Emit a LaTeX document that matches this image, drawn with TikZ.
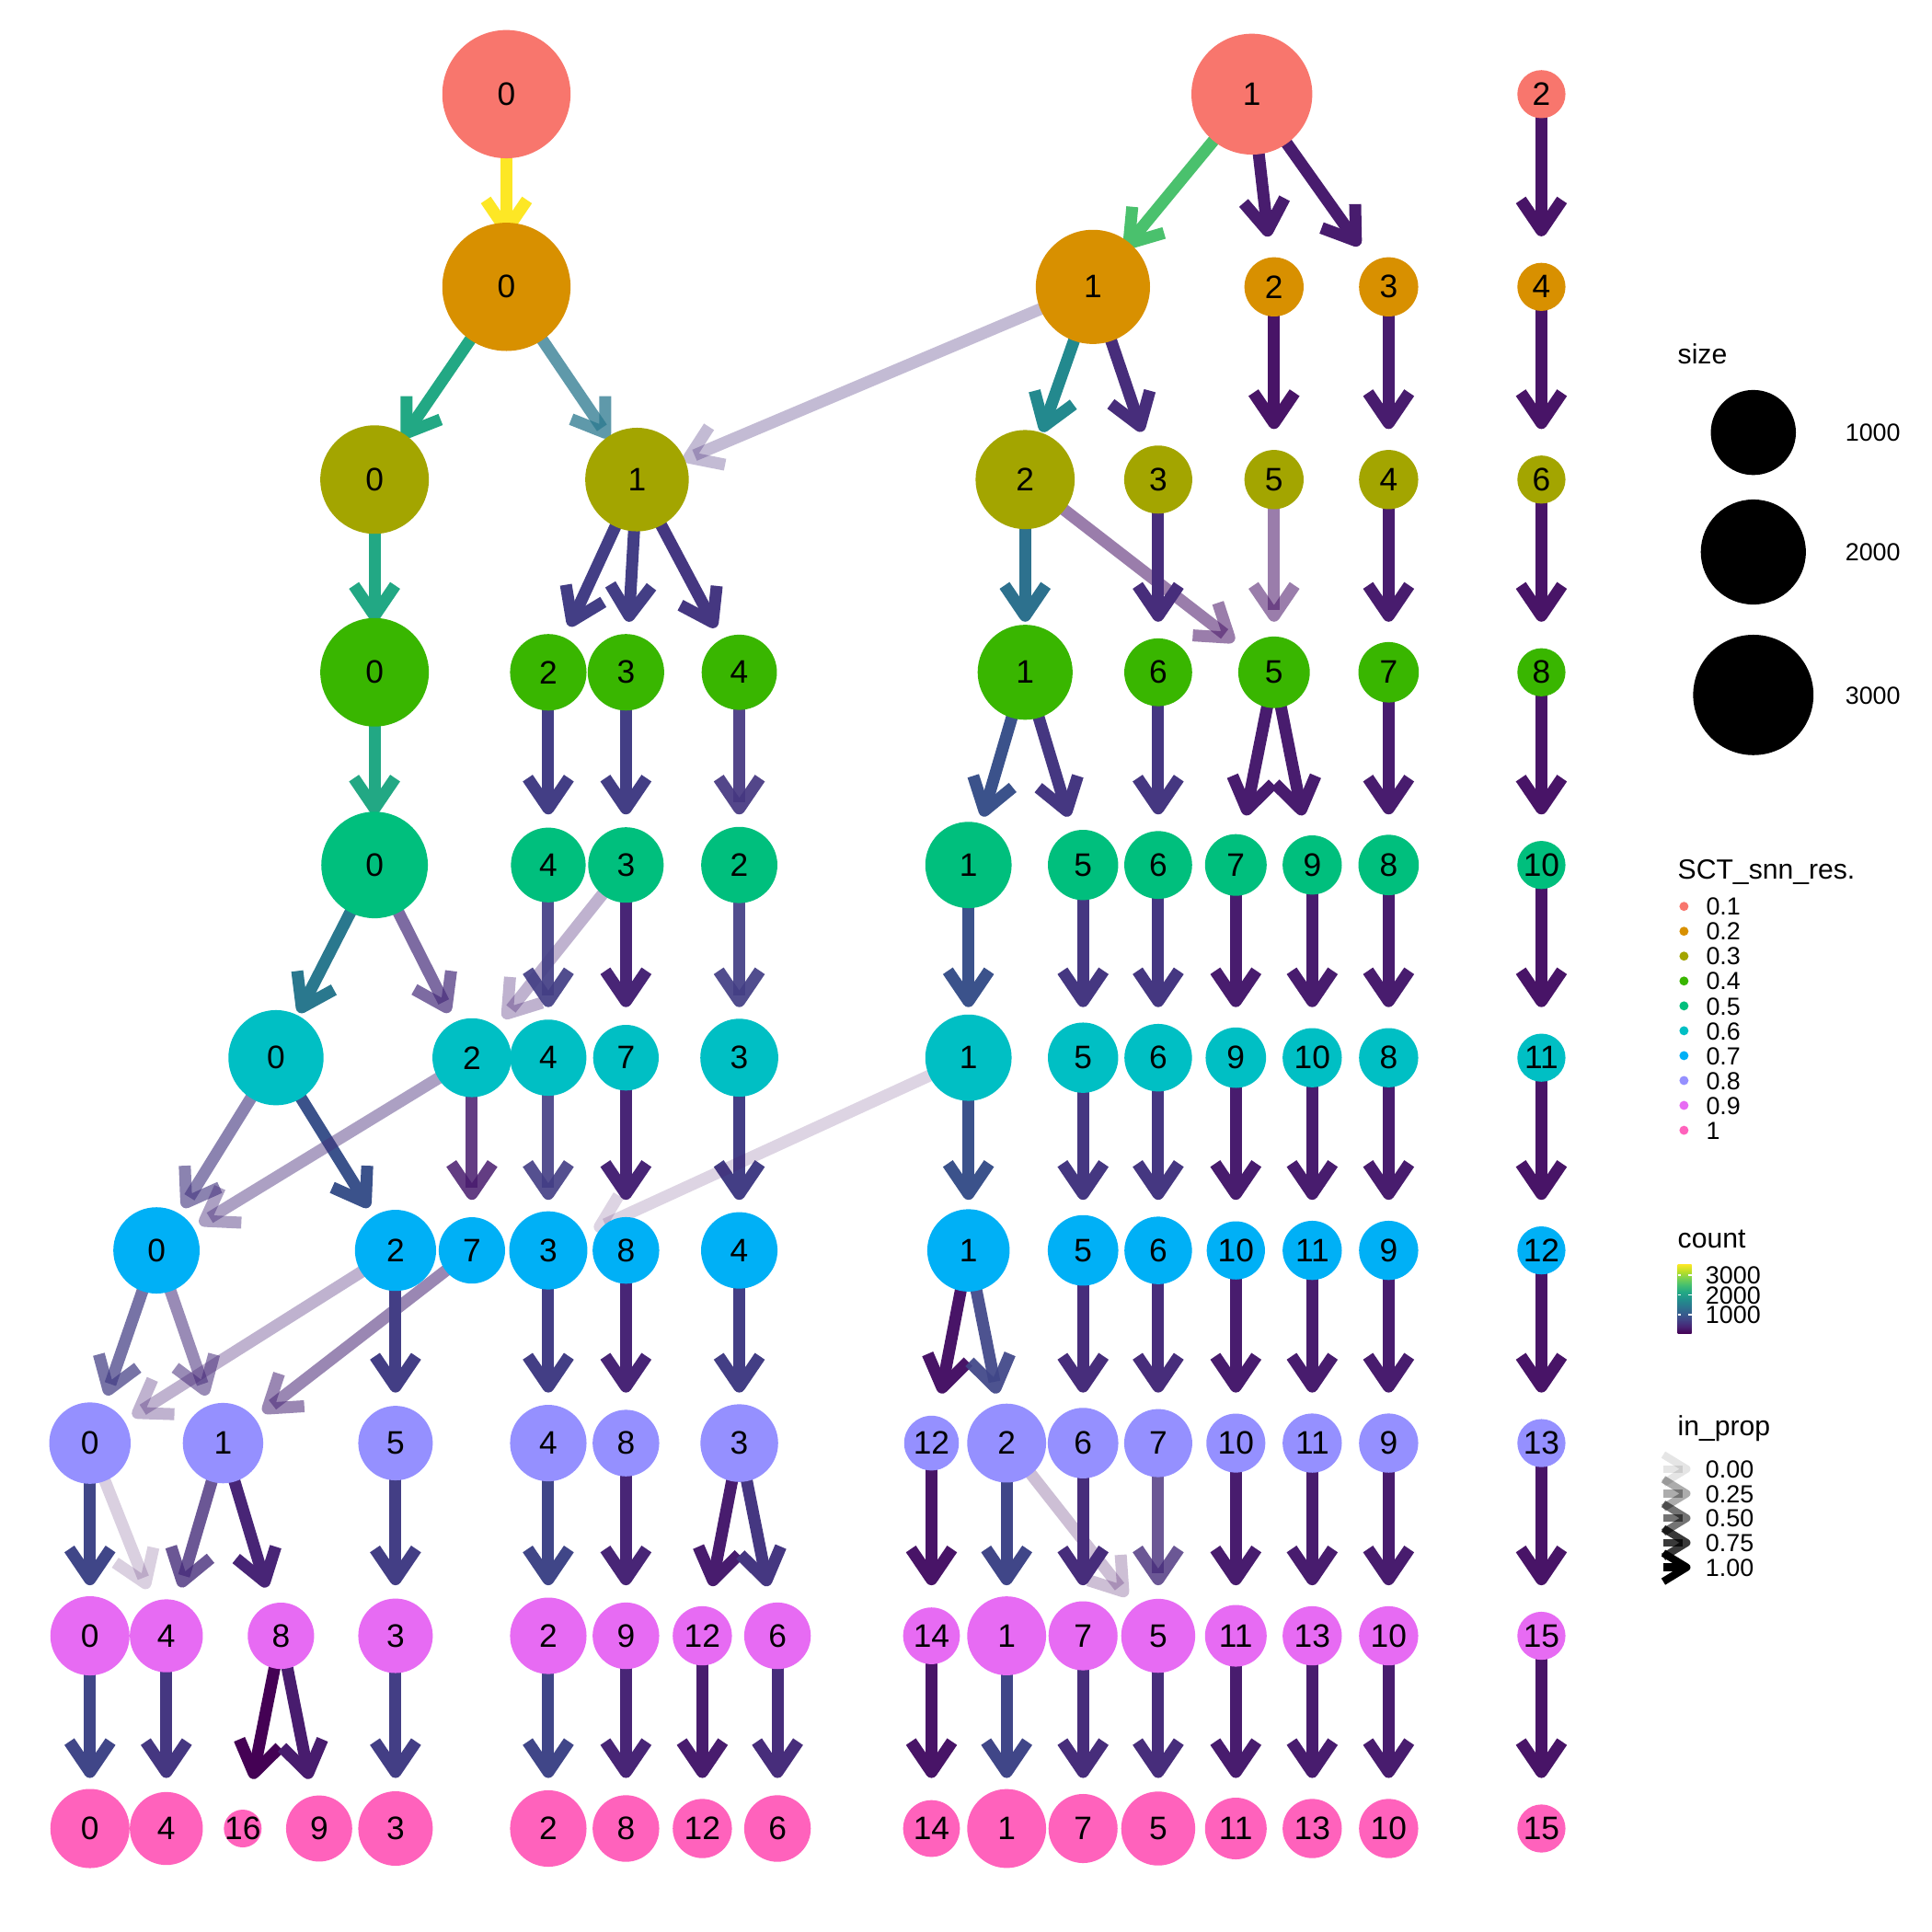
\documentclass[tikz,border=0pt]{standalone}
\usepackage{fontspec}
\setmainfont{Liberation Sans}
\usetikzlibrary{arrows.meta}

% resolution colours (hue palette)
\definecolor{p1}{HTML}{F8766D}
\definecolor{p2}{HTML}{D89000}
\definecolor{p3}{HTML}{A3A500}
\definecolor{p4}{HTML}{39B600}
\definecolor{p5}{HTML}{00BF7D}
\definecolor{p6}{HTML}{00BFC4}
\definecolor{p7}{HTML}{00B0F6}
\definecolor{p8}{HTML}{9590FF}
\definecolor{p9}{HTML}{E76BF3}
\definecolor{p10}{HTML}{FF62BC}

% viridis levels used for the edge counts
\definecolor{vA}{HTML}{440154}
\definecolor{vB}{HTML}{481467}
\definecolor{vC}{HTML}{481C6E}
\definecolor{vD}{HTML}{482576}
\definecolor{vE}{HTML}{472D7B}
\definecolor{vF}{HTML}{453781}
\definecolor{vG}{HTML}{433E85}
\definecolor{vH}{HTML}{404688}
\definecolor{vI}{HTML}{3B528B}
\definecolor{vK}{HTML}{2D718E}
\definecolor{vL}{HTML}{2A788E}
\definecolor{vM}{HTML}{23898E}
\definecolor{vN}{HTML}{22A884}
\definecolor{vO}{HTML}{4AC16D}
\definecolor{vP}{HTML}{FDE725}

% colour bar stops
\definecolor{w0}{HTML}{440154}
\definecolor{w1}{HTML}{482475}
\definecolor{w2}{HTML}{414487}
\definecolor{w3}{HTML}{355F8D}
\definecolor{w4}{HTML}{2A788E}
\definecolor{w5}{HTML}{21918C}
\definecolor{w6}{HTML}{22A884}
\definecolor{w7}{HTML}{44BF70}
\definecolor{w8}{HTML}{7AD151}
\definecolor{w9}{HTML}{BDDF26}
\definecolor{w10}{HTML}{FDE725}
\pgfdeclareverticalshading{viridisbar}{100bp}{color(0bp)=(w0); color(25bp)=(w0); color(30bp)=(w1); color(35bp)=(w2); color(40bp)=(w3); color(45bp)=(w4); color(50bp)=(w5); color(55bp)=(w6); color(60bp)=(w7); color(65bp)=(w8); color(70bp)=(w9); color(75bp)=(w10); color(100bp)=(w10)}

\pgfdeclarelayer{bglayer}
\pgfdeclarelayer{edgelayer}
\pgfsetlayers{bglayer,edgelayer,main}

\tikzset{
  nd/.style={circle, inner sep=0pt, draw=none, text=black, font=\fontsize{7.5}{8}\selectfont},
  edgeline/.style={line width=2.76pt, shorten >=0.41cm,
    -{Straight Barb[length=7pt, width=9.5pt, line join=round, line cap=butt]}},
  ttl/.style={anchor=base west, inner sep=0pt, font=\fontsize{6.4}{7}\selectfont},
  lab/.style={anchor=base west, inner sep=0pt, yshift=-2.05pt, font=\fontsize{5.7}{6.5}\selectfont},
  keyarrow/.style={line width=1.75pt, black,
    -{Straight Barb[length=5.4pt, width=6.6pt, line join=round, line cap=butt]}},
  dot/.style={circle, inner sep=0pt, minimum size=0.074cm},
}

% cluster node: resolution row, cluster id, x position, radius
\newcommand\cl[4]{\node[nd, fill=p#1, minimum size=#4*0.02cm] (r#1c#2) at (#3,{76.4+156.4*(#1-1)}) {\makebox[0pt]{#2}};}
% edge between clusters: source, target, colour, opacity
\newcommand\lnk[4]{\draw[edgeline, draw=#3, opacity=#4] (#1.center) -- (#2.center);}

\begin{document}
\begin{tikzpicture}[x=0.01cm, y=-0.01cm]
\begin{pgfonlayer}{bglayer}
\fill[white] (0,0) rectangle (1568,1568);
\end{pgfonlayer}
\useasboundingbox (0,0) rectangle (1568,1568);

% ---- clusters ----
\cl{1}{0}{411}{52} \cl{1}{1}{1016}{49} \cl{1}{2}{1251}{19.5}

\cl{2}{0}{411}{52} \cl{2}{1}{887}{46.3} \cl{2}{2}{1034}{24} \cl{2}{3}{1127}{24} \cl{2}{4}{1251}{19.5}

\cl{3}{0}{304}{44} \cl{3}{1}{517}{42} \cl{3}{2}{832}{40.2} \cl{3}{3}{940}{27.6}
\cl{3}{5}{1034}{24} \cl{3}{4}{1127}{24} \cl{3}{6}{1251}{19.5}

\cl{4}{0}{304}{44} \cl{4}{2}{445}{31} \cl{4}{3}{508}{31} \cl{4}{4}{600}{30.5}
\cl{4}{1}{832}{38.5} \cl{4}{6}{940}{27.5} \cl{4}{5}{1034}{29} \cl{4}{7}{1127}{24.5} \cl{4}{8}{1251}{19.5}

\cl{5}{0}{304}{43.2} \cl{5}{4}{445}{30.3} \cl{5}{3}{508}{30.6} \cl{5}{2}{600}{30.9}
\cl{5}{1}{786}{35} \cl{5}{5}{879}{28.5} \cl{5}{6}{940}{27.5} \cl{5}{7}{1003}{25}
\cl{5}{9}{1065}{24} \cl{5}{8}{1127}{24.5} \cl{5}{10}{1251}{19.5}

\cl{6}{0}{224}{38.6} \cl{6}{2}{383}{32} \cl{6}{4}{445}{30.9} \cl{6}{7}{508}{26.6}
\cl{6}{3}{600}{31.6} \cl{6}{1}{786}{35} \cl{6}{5}{879}{28.5} \cl{6}{6}{940}{27.4}
\cl{6}{9}{1003}{24.5} \cl{6}{10}{1065}{24} \cl{6}{8}{1127}{24} \cl{6}{11}{1251}{19.5}

\cl{7}{0}{127}{35} \cl{7}{2}{321}{32.9} \cl{7}{7}{383}{26.9} \cl{7}{3}{445}{31.7}
\cl{7}{8}{508}{27} \cl{7}{4}{600}{31} \cl{7}{1}{786}{33.4} \cl{7}{5}{879}{28.6}
\cl{7}{6}{940}{27.4} \cl{7}{10}{1003}{23.6} \cl{7}{11}{1065}{24} \cl{7}{9}{1127}{24} \cl{7}{12}{1251}{19.5}

\cl{8}{0}{73}{33} \cl{8}{1}{181}{32.6} \cl{8}{5}{321}{30.2} \cl{8}{4}{445}{31}
\cl{8}{8}{508}{27} \cl{8}{3}{600}{31.5} \cl{8}{12}{756}{22.2} \cl{8}{2}{817}{32}
\cl{8}{6}{879}{28.6} \cl{8}{7}{940}{27.6} \cl{8}{10}{1003}{23.9} \cl{8}{11}{1065}{24}
\cl{8}{9}{1127}{24} \cl{8}{13}{1251}{19.5}

\cl{9}{0}{73}{32.1} \cl{9}{4}{135}{29.6} \cl{9}{8}{228}{26.9} \cl{9}{3}{321}{30.2}
\cl{9}{2}{445}{31} \cl{9}{9}{508}{27} \cl{9}{12}{570}{24} \cl{9}{6}{631}{27}
\cl{9}{14}{756}{23} \cl{9}{1}{817}{32} \cl{9}{7}{879}{28} \cl{9}{5}{940}{30}
\cl{9}{11}{1003}{25} \cl{9}{13}{1065}{24} \cl{9}{10}{1127}{24} \cl{9}{15}{1251}{19.5}

\cl{10}{0}{73}{32.1} \cl{10}{4}{135}{29.6} \cl{10}{16}{197}{15.3} \cl{10}{9}{259}{26.8}
\cl{10}{3}{321}{30.2} \cl{10}{2}{445}{31} \cl{10}{8}{508}{27} \cl{10}{12}{570}{24}
\cl{10}{6}{631}{27} \cl{10}{14}{756}{23} \cl{10}{1}{817}{32} \cl{10}{7}{879}{28}
\cl{10}{5}{940}{30} \cl{10}{11}{1003}{25} \cl{10}{13}{1065}{24} \cl{10}{10}{1127}{24}
\cl{10}{15}{1251}{19.5}

% ---- edges ----
\begin{pgfonlayer}{edgelayer}
\lnk{r1c0}{r2c0}{vP}{1}
\lnk{r1c1}{r2c1}{vO}{1}
\lnk{r1c1}{r2c2}{vC}{1}
\lnk{r1c1}{r2c3}{vC}{1}
\lnk{r1c2}{r2c4}{vB}{1}

\lnk{r2c0}{r3c0}{vN}{1}
\lnk{r2c0}{r3c1}{vL}{0.75}
\lnk{r2c1}{r3c1}{vE}{0.32}
\lnk{r2c1}{r3c2}{vM}{1}
\lnk{r2c1}{r3c3}{vE}{1}
\lnk{r2c2}{r3c5}{vB}{1}
\lnk{r2c3}{r3c4}{vC}{1}
\lnk{r2c4}{r3c6}{vB}{1}

\lnk{r3c0}{r4c0}{vN}{1}
\lnk{r3c1}{r4c2}{vG}{1}
\lnk{r3c1}{r4c3}{vG}{1}
\lnk{r3c1}{r4c4}{vF}{1}
\lnk{r3c2}{r4c1}{vK}{1}
\lnk{r3c2}{r4c5}{vB}{0.55}
\lnk{r3c3}{r4c6}{vE}{1}
\lnk{r3c5}{r4c5}{vB}{0.55}
\lnk{r3c4}{r4c7}{vC}{1}
\lnk{r3c6}{r4c8}{vB}{1}

\lnk{r4c0}{r5c0}{vN}{1}
\lnk{r4c2}{r5c4}{vG}{1}
\lnk{r4c3}{r5c3}{vG}{1}
\lnk{r4c4}{r5c2}{vF}{0.92}
\lnk{r4c1}{r5c1}{vI}{1}
\lnk{r4c1}{r5c5}{vF}{1}
\lnk{r4c6}{r5c6}{vF}{1}
\lnk{r4c5}{r5c7}{vC}{1}
\lnk{r4c5}{r5c9}{vC}{1}
\lnk{r4c7}{r5c8}{vC}{1}
\lnk{r4c8}{r5c10}{vB}{1}

\lnk{r5c0}{r6c0}{vL}{1}
\lnk{r5c0}{r6c2}{vE}{0.7}
\lnk{r5c3}{r6c2}{vD}{0.35}
\lnk{r5c4}{r6c4}{vG}{0.92}
\lnk{r5c3}{r6c7}{vD}{1}
\lnk{r5c2}{r6c3}{vG}{0.92}
\lnk{r5c1}{r6c1}{vI}{1}
\lnk{r5c5}{r6c5}{vF}{1}
\lnk{r5c6}{r6c6}{vF}{1}
\lnk{r5c7}{r6c9}{vC}{1}
\lnk{r5c9}{r6c10}{vC}{1}
\lnk{r5c8}{r6c8}{vC}{1}
\lnk{r5c10}{r6c11}{vB}{1}

\lnk{r6c0}{r7c0}{vF}{0.62}
\lnk{r6c0}{r7c2}{vI}{1}
\lnk{r6c2}{r7c0}{vE}{0.45}
\lnk{r6c2}{r7c7}{vC}{0.85}
\lnk{r6c4}{r7c3}{vG}{0.9}
\lnk{r6c7}{r7c8}{vD}{1}
\lnk{r6c3}{r7c4}{vG}{1}
\lnk{r6c1}{r7c3}{vB}{0.18}
\lnk{r6c1}{r7c1}{vI}{1}
\lnk{r6c5}{r7c5}{vF}{1}
\lnk{r6c6}{r7c6}{vF}{1}
\lnk{r6c9}{r7c10}{vC}{1}
\lnk{r6c10}{r7c11}{vC}{1}
\lnk{r6c8}{r7c9}{vC}{1}
\lnk{r6c11}{r7c12}{vB}{1}

\lnk{r7c0}{r8c0}{vG}{0.72}
\lnk{r7c0}{r8c1}{vE}{0.55}
\lnk{r7c2}{r8c0}{vD}{0.35}
\lnk{r7c7}{r8c1}{vD}{0.55}
\lnk{r7c2}{r8c5}{vG}{1}
\lnk{r7c3}{r8c4}{vG}{1}
\lnk{r7c8}{r8c8}{vD}{1}
\lnk{r7c4}{r8c3}{vG}{1}
\lnk{r7c1}{r8c12}{vB}{1}
\lnk{r7c1}{r8c2}{vH}{0.93}
\lnk{r7c5}{r8c6}{vE}{1}
\lnk{r7c6}{r8c7}{vE}{1}
\lnk{r7c10}{r8c10}{vC}{1}
\lnk{r7c11}{r8c11}{vC}{1}
\lnk{r7c9}{r8c9}{vC}{1}
\lnk{r7c12}{r8c13}{vB}{1}

\lnk{r8c0}{r9c0}{vH}{1}
\lnk{r8c0}{r9c4}{vB}{0.2}
\lnk{r8c1}{r9c4}{vE}{0.8}
\lnk{r8c1}{r9c8}{vD}{1}
\lnk{r8c5}{r9c3}{vG}{1}
\lnk{r8c4}{r9c2}{vH}{1}
\lnk{r8c8}{r9c9}{vD}{1}
\lnk{r8c3}{r9c12}{vC}{1}
\lnk{r8c3}{r9c6}{vF}{1}
\lnk{r8c12}{r9c14}{vB}{1}
\lnk{r8c2}{r9c1}{vH}{1}
\lnk{r8c2}{r9c5}{vB}{0.27}
\lnk{r8c6}{r9c7}{vE}{1}
\lnk{r8c7}{r9c5}{vE}{0.8}
\lnk{r8c10}{r9c11}{vC}{1}
\lnk{r8c11}{r9c13}{vC}{1}
\lnk{r8c9}{r9c10}{vC}{1}
\lnk{r8c13}{r9c15}{vB}{1}

\lnk{r9c0}{r10c0}{vH}{1}
\lnk{r9c4}{r10c4}{vF}{1}
\lnk{r9c8}{r10c16}{vA}{1}
\lnk{r9c8}{r10c9}{vC}{1}
\lnk{r9c3}{r10c3}{vG}{1}
\lnk{r9c2}{r10c2}{vH}{1}
\lnk{r9c9}{r10c8}{vD}{1}
\lnk{r9c12}{r10c12}{vC}{1}
\lnk{r9c6}{r10c6}{vE}{1}
\lnk{r9c14}{r10c14}{vB}{1}
\lnk{r9c1}{r10c1}{vH}{1}
\lnk{r9c7}{r10c7}{vE}{1}
\lnk{r9c5}{r10c5}{vE}{1}
\lnk{r9c11}{r10c11}{vC}{1}
\lnk{r9c13}{r10c13}{vC}{1}
\lnk{r9c10}{r10c10}{vC}{1}
\lnk{r9c15}{r10c15}{vB}{1}
\end{pgfonlayer}

% ---- legend: size ----
\node[ttl] (tsize) at (1361,295) {size};
\node[circle, fill=black, inner sep=0pt, minimum size=0.69cm] (s1) at (1423,351) {};
\node[circle, fill=black, inner sep=0pt, minimum size=0.852cm] (s2) at (1423,448) {};
\node[circle, fill=black, inner sep=0pt, minimum size=0.976cm] (s3) at (1423,564) {};
\node[lab] (ls1) at (1497,351) {1000};
\node[lab] (ls2) at (1497,448) {2000};
\node[lab] (ls3) at (1497,564) {3000};

% ---- legend: resolution ----
\node[ttl] (tres) at (1361,713.2) {SCT\_snn\_res.};
\foreach \v [count=\i] in {0.1,0.2,0.3,0.4,0.5,0.6,0.7,0.8,0.9,1} {
  \node[dot, fill=p\i] (kd\i) at (1366.7,{735.6+20.19*(\i-1)}) {};
  \node[lab] (kl\i) at (1384,{735.6+20.19*(\i-1)}) {\v};
}

% ---- legend: count ----
\node[ttl] (tcount) at (1361,1013.2) {count};
\shade[shading=viridisbar] (1361.7,1026) rectangle (1372.9,1082.3);
\foreach \t/\s in {1035.1/3000,1051/2000,1067/1000} {
  \draw[white, line width=0.35pt] (1361.7,\t) -- (1364.4,\t) (1370.2,\t) -- (1372.9,\t);
  \node[lab] at (1383.6,\t) {\s};
}

% ---- legend: in_prop ----
\node[ttl] (tprop) at (1361,1165.5) {in\_prop};
\foreach \a/\s [count=\i] in {0.1/0.00,0.325/0.25,0.55/0.50,0.775/0.75,1/1.00} {
  \coordinate (pa\i) at (1350,{1192.2+19.95*(\i-1)});
  \coordinate (pb\i) at (1372,{1192.2+19.95*(\i-1)});
  \draw[keyarrow, opacity=\a] (pa\i) -- (pb\i);
  \node[lab] (pl\i) at (1383.6,{1192.2+19.95*(\i-1)}) {\s};
}
\end{tikzpicture}
\end{document}
